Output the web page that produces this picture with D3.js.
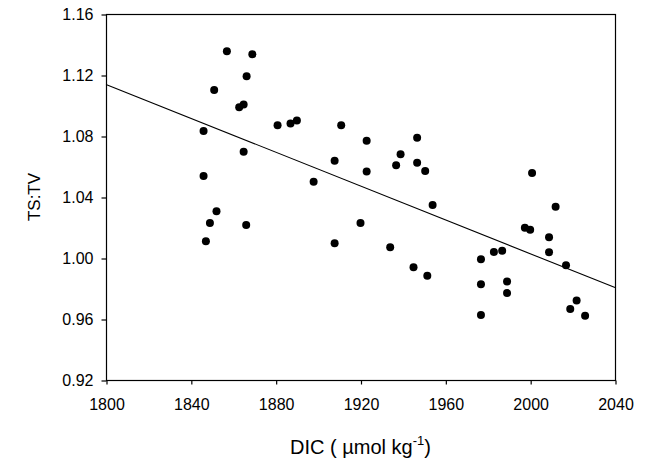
<!DOCTYPE html>
<html>
<head>
<meta charset="utf-8">
<script src="https://cdn.jsdelivr.net/npm/d3@7"></script>
<style>
  html, body { margin: 0; padding: 0; background: #fff; }
  svg { display: block; }
  text { font-family: "Liberation Sans", Arial, Helvetica, sans-serif; fill: #000; }
</style>
</head>
<body>
<svg id="chart" width="646" height="460"></svg>
<script>
// DIC (µmol kg-1)
const dic = [1857, 1869, 1866.3, 1851, 1862.8, 1864.9, 1880.9, 1887, 1890, 1846, 1864.9, 1846, 1897.9,
  1852.1, 1849, 1866.1, 1847.1,
  1910.9, 1922.9, 1946.7, 1938.9, 1907.8, 1936.8, 1946.7, 1950.5, 1922.9, 1954, 1920, 1907.8, 1934, 1945, 1951.5,
  2000.9, 2012, 1997.5, 2000, 2008.9, 2008.9, 2016.9, 1982.9, 1986.8, 1976.8, 1976.8, 1989.1, 1989.1, 1976.8,
  2021.9, 2018.9, 2025.9];
// TS:TV ratio
const tstv = [1.1356, 1.1336, 1.1192, 1.1102, 1.0989, 1.1007, 1.0871, 1.0882, 1.0902, 1.0832, 1.0697, 1.0537, 1.0500,
  1.0306, 1.0230, 1.0217, 1.0110,
  1.0871, 1.0769, 1.0788, 1.0681, 1.0638, 1.0608, 1.0625, 1.0570, 1.0568, 1.0348, 1.0230, 1.0097, 1.0071, 0.9940, 0.9883,
  1.0557, 1.0336, 1.0199, 1.0186, 1.0136, 1.0038, 0.9953, 1.0040, 1.0048, 0.9992, 0.9828, 0.9846, 0.9770, 0.9627,
  0.9721, 0.9665, 0.9621];
// regression line endpoints
const fitX = [1800, 2040];
const fitY = [1.1138, 0.9806];
const xTicks = [1800, 1840, 1880, 1920, 1960, 2000, 2040];
const yTicks = [0.92, 0.96, 1.00, 1.04, 1.08, 1.12, 1.16];

const svg = d3.select("#chart");
const mLeft = 106, mRight = 615, mTop = 14, mBottom = 380;

const x = d3.scaleLinear().domain([1800, 2040]).range([mLeft, mRight]);
const y = d3.scaleLinear().domain([0.92, 1.16]).range([mBottom, mTop]);

// frame
svg.append("rect")
  .attr("x", mLeft + 0.5).attr("y", mTop + 0.5)
  .attr("width", mRight - mLeft).attr("height", mBottom - mTop)
  .attr("fill", "none").attr("stroke", "#000").attr("stroke-width", 1.2);

const xAxis = svg.append("g")
  .attr("transform", `translate(0.5,${mBottom + 0.5})`)
  .call(d3.axisBottom(x).tickValues(xTicks).tickFormat(d3.format("d")).tickSize(4).tickPadding(14));
const yAxis = svg.append("g")
  .attr("transform", `translate(${mLeft + 0.5},0.5)`)
  .call(d3.axisLeft(y).tickValues(yTicks).tickFormat(d3.format(".2f")).tickSize(5).tickPadding(8));

[xAxis, yAxis].forEach(g => {
  g.select(".domain").remove();
  g.selectAll(".tick line").attr("stroke", "#000").attr("stroke-width", 1.2);
  g.selectAll(".tick text")
    .style("font-family", '"Liberation Sans", Arial, sans-serif')
    .style("font-size", "16px").attr("fill", "#000");
});

// regression line
svg.append("line")
  .attr("x1", x(fitX[0])).attr("y1", y(fitY[0]))
  .attr("x2", x(fitX[1])).attr("y2", y(fitY[1]))
  .attr("stroke", "#000").attr("stroke-width", 1.1);

// points
svg.append("g").selectAll("circle")
  .data(dic.map((d, i) => [d, tstv[i]]))
  .join("circle")
  .attr("cx", d => x(d[0])).attr("cy", d => y(d[1]))
  .attr("r", 4).attr("fill", "#000");

// y label
svg.append("text")
  .attr("transform", `translate(40,${(mTop + mBottom) / 2}) rotate(-90)`)
  .attr("text-anchor", "middle")
  .style("font-size", "17px")
  .text("TS:TV");

// x label
const xl = svg.append("text")
  .attr("x", (mLeft + mRight) / 2).attr("y", 454)
  .attr("text-anchor", "middle")
  .style("font-size", "20px");
xl.append("tspan").text("DIC ( µmol kg");
xl.append("tspan").attr("dy", -9).style("font-size", "13px").text("-1");
xl.append("tspan").attr("dy", 9).text(")");
</script>
</body>
</html>
